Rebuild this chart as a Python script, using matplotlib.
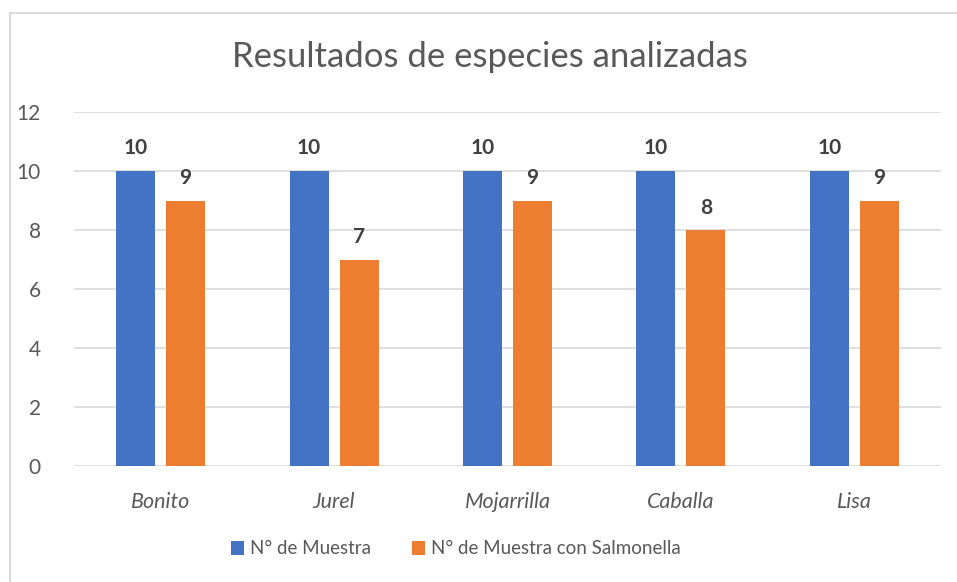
import matplotlib.pyplot as plt
from matplotlib.patches import Rectangle
import numpy as np

especies = ['Bonito', 'Jurel', 'Mojarrilla', 'Caballa', 'Lisa']
muestras = [10, 10, 10, 10, 10]
con_salmonella = [9, 7, 9, 8, 9]
series_names = ['N° de Muestra', 'N° de Muestra con Salmonella']

plt.rcParams['font.family'] = ['Lato', 'DejaVu Sans']

W, H = 957, 582
fig = plt.figure(figsize=(W / 100, H / 100), dpi=100)
ax = fig.add_axes([74 / W, 1 - 466 / H, (941 - 74) / W, (466 - 112) / H])

# outer chart border (right and bottom edges fall outside the image)
fig.patches.append(Rectangle((9.5 / W, -10 / H), (980 - 9.5) / W, (H - 13 + 10) / H,
                             transform=fig.transFigure, fill=False,
                             edgecolor='#d9d9d9', linewidth=1.3))

x = np.arange(len(especies))
bw = 0.225
off = 0.144
b1 = ax.bar(x - off, muestras, bw, color='#4472c4', label=series_names[0], zorder=3)
b2 = ax.bar(x + off, con_salmonella, bw, color='#ed7d31', label=series_names[1], zorder=3)

for bars in (b1, b2):
    ax.bar_label(bars, padding=9, fontsize=15, fontweight='bold', color='#404040')

ax.set_xlim(-0.5, len(especies) - 0.5)
ax.set_ylim(0, 12)
ax.set_yticks(range(0, 13, 2))
ax.set_xticks(x)
ax.set_xticklabels(especies, fontsize=15.5, style='italic', color='#595959')
ax.tick_params(axis='y', labelsize=15, labelcolor='#595959', length=0, pad=24)
ax.tick_params(axis='x', length=0, pad=19)
ax.grid(axis='y', color='#d9d9d9', linewidth=1.2, zorder=0)
for s in ax.spines.values():
    s.set_visible(False)

fig.text(490 / W, 1 - 57 / H, 'Resultados de especies analizadas',
         ha='center', va='center', fontsize=25, color='#595959')

fig.legend(loc='center', bbox_to_anchor=(456 / W, 1 - 549 / H), ncol=2,
           frameon=False, fontsize=13.5, labelcolor='#595959',
           handlelength=0.7, handleheight=0.7, columnspacing=2.2, handletextpad=0.3)

fig.savefig('out.png', dpi=100)
